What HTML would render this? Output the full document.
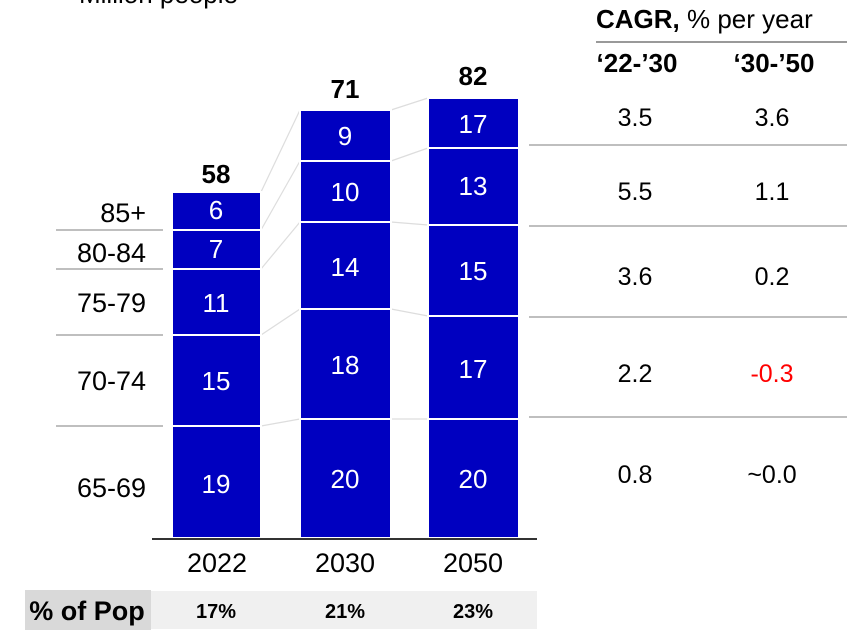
<!DOCTYPE html>
<html><head><meta charset="utf-8"><style>
html,body{margin:0;padding:0;background:#fff}
svg{display:block;font-family:"Liberation Sans",Arial,sans-serif}
</style></head><body>
<svg width="857" height="637" viewBox="0 0 857 637" xmlns="http://www.w3.org/2000/svg">
<text x="79" y="3" font-size="26" fill="#000">Million people</text>
<text x="596" y="28" font-size="26" fill="#000"><tspan font-weight="bold">CAGR,</tspan> % per year</text>
<line x1="596" y1="42" x2="847" y2="42" stroke="#999" stroke-width="2"/>
<g font-size="26" font-weight="bold" text-anchor="middle">
<text x="637" y="72">‘22-’30</text><text x="774" y="72">‘30-’50</text></g>
<g stroke="#aaa" stroke-width="1.5">
<line x1="529" y1="145" x2="847" y2="145"/><line x1="529" y1="226" x2="847" y2="226"/>
<line x1="529" y1="317" x2="847" y2="317"/><line x1="529" y1="417" x2="847" y2="417"/>
<line x1="56" y1="230" x2="163" y2="230"/><line x1="56" y1="269" x2="163" y2="269"/>
<line x1="56" y1="335" x2="163" y2="335"/><line x1="56" y1="426" x2="163" y2="426"/>
</g>
<g font-size="25" text-anchor="middle" fill="#000">
<text x="635" y="126">3.5</text><text x="772" y="126">3.6</text>
<text x="635" y="200">5.5</text><text x="772" y="200">1.1</text>
<text x="635" y="285">3.6</text><text x="772" y="285">0.2</text>
<text x="635" y="382">2.2</text><text x="772" y="382" fill="#f00">-0.3</text>
<text x="635" y="483">0.8</text><text x="772" y="483">~0.0</text>
</g>
<g stroke="#ddd" stroke-width="1.2">
<line x1="261" y1="192" x2="300" y2="110"/><line x1="261" y1="230" x2="300" y2="161"/>
<line x1="261" y1="269" x2="300" y2="222"/><line x1="261" y1="335" x2="300" y2="309"/>
<line x1="261" y1="426" x2="300" y2="419"/>
<line x1="391" y1="110" x2="428" y2="98"/><line x1="391" y1="161" x2="428" y2="148"/>
<line x1="391" y1="222" x2="428" y2="225"/><line x1="391" y1="309" x2="428" y2="316"/>
<line x1="391" y1="419" x2="428" y2="419"/>
</g>
<g fill="#0000c0" stroke="#fff" stroke-width="2">
<rect x="172" y="192" width="89" height="38"/><rect x="172" y="230" width="89" height="39"/>
<rect x="172" y="269" width="89" height="66"/><rect x="172" y="335" width="89" height="91"/>
<rect x="172" y="426" width="89" height="112"/>
<rect x="300" y="110" width="91" height="51"/><rect x="300" y="161" width="91" height="61"/>
<rect x="300" y="222" width="91" height="87"/><rect x="300" y="309" width="91" height="110"/>
<rect x="300" y="419" width="91" height="119"/>
<rect x="428" y="98" width="91" height="50"/><rect x="428" y="148" width="91" height="77"/>
<rect x="428" y="225" width="91" height="91"/><rect x="428" y="316" width="91" height="103"/>
<rect x="428" y="419" width="91" height="119"/>
</g>
<g font-size="26" fill="#fff" text-anchor="middle">
<text x="216" y="219">6</text><text x="216" y="258">7</text><text x="216" y="312">11</text>
<text x="216" y="390">15</text><text x="216" y="493">19</text>
<text x="345" y="145">9</text><text x="345" y="201">10</text><text x="345" y="276">14</text>
<text x="345" y="374">18</text><text x="345" y="488">20</text>
<text x="473" y="133">17</text><text x="473" y="195">13</text><text x="473" y="280">15</text>
<text x="473" y="378">17</text><text x="473" y="488">20</text>
</g>
<g font-size="26" font-weight="bold" text-anchor="middle">
<text x="216" y="183">58</text><text x="345" y="98">71</text><text x="473" y="85">82</text>
</g>
<g font-size="27" text-anchor="end">
<text x="146" y="222">85+</text><text x="146" y="262">80-84</text><text x="146" y="312">75-79</text>
<text x="146" y="390">70-74</text><text x="146" y="497">65-69</text>
</g>
<line x1="152" y1="539" x2="537" y2="539" stroke="#333" stroke-width="2"/>
<g font-size="27" text-anchor="middle">
<text x="217" y="572">2022</text><text x="345" y="572">2030</text><text x="473" y="572">2050</text>
</g>
<rect x="25" y="590" width="126" height="40" fill="#d9d9d9"/>
<rect x="151" y="591" width="386" height="38" fill="#f0f0f0"/>
<text x="87" y="620" font-size="27" font-weight="bold" text-anchor="middle">% of Pop</text>
<g font-size="20" font-weight="bold" text-anchor="middle">
<text x="216" y="618">17%</text><text x="345" y="618">21%</text><text x="473" y="618">23%</text>
</g>
</svg>
</body></html>
